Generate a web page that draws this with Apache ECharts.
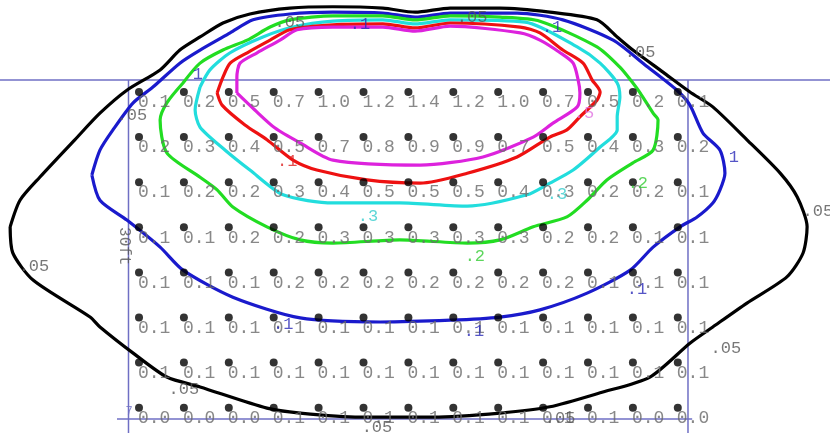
<!DOCTYPE html>
<html>
<head>
<meta charset="utf-8">
<script src="https://cdn.jsdelivr.net/npm/echarts@6/dist/echarts.min.js"></script>
<style>html,body{margin:0;padding:0;background:#fff}#c{width:830px;height:433px}</style>
</head>
<body>
<div id="c"></div>
<script>
// Illuminance grid values (rows top->bottom, 13 columns), grid units = point spacing
const illum = [
  [0.1,0.2,0.5,0.7,1.0,1.2,1.4,1.2,1.0,0.7,0.5,0.2,0.1],
  [0.2,0.3,0.4,0.5,0.7,0.8,0.9,0.9,0.7,0.5,0.4,0.3,0.2],
  [0.1,0.2,0.2,0.3,0.4,0.5,0.5,0.5,0.4,0.3,0.2,0.2,0.1],
  [0.1,0.1,0.2,0.2,0.3,0.3,0.3,0.3,0.3,0.2,0.2,0.1,0.1],
  [0.1,0.1,0.1,0.2,0.2,0.2,0.2,0.2,0.2,0.2,0.1,0.1,0.1],
  [0.1,0.1,0.1,0.1,0.1,0.1,0.1,0.1,0.1,0.1,0.1,0.1,0.1],
  [0.1,0.1,0.1,0.1,0.1,0.1,0.1,0.1,0.1,0.1,0.1,0.1,0.1],
  [0.0,0.0,0.0,0.1,0.1,0.1,0.1,0.1,0.1,0.1,0.1,0.0,0.0]
];

// Iso-lines (fc), in grid units
const iso005 = [[-2.87,2.99],[-2.65,2.40],[-2.21,1.89],[-1.43,1.06],[-0.87,0.47],[-0.27,-0.04],[0.47,-0.49],[0.91,-0.93],[1.36,-1.22],[1.87,-1.53],[2.47,-1.73],[3.36,-1.86],[4.32,-1.89],[5.43,-1.86],[6.15,-1.77],[6.93,-1.86],[8.04,-1.86],[9.15,-1.77],[10.20,-1.60],[10.65,-1.22],[11.00,-0.93],[11.67,-0.44],[12.27,0],[12.78,0.33],[13.54,1.06],[14.28,1.80],[14.66,2.33],[14.88,2.99],[14.79,3.57],[14.43,4.10],[13.54,4.68],[12.78,5.21],[12.27,5.57],[11.38,6.32],[10.27,6.67],[9.15,6.98],[8.04,7.12],[6.55,7.21],[4.92,7.21],[3.59,7.12],[2.85,7.01],[1.36,6.54],[0.62,6.32],[-0.13,5.79],[-0.87,5.21],[-1.09,4.99],[-2.36,4.17],[-2.81,3.57],[-2.87,2.99]];
const iso01 = [[-1.05,1.84],[-0.87,1.29],[-0.58,0.84],[-0.13,0.24],[0.31,-0.11],[0.91,-0.64],[1.36,-0.93],[2.03,-1.31],[2.54,-1.60],[3.36,-1.73],[4.32,-1.77],[5.43,-1.75],[6.15,-1.66],[6.93,-1.75],[8.42,-1.75],[9.44,-1.60],[10.56,-1.15],[11.27,-0.60],[11.98,-0.04],[12.27,0.29],[12.56,0.91],[12.94,1.29],[13.05,1.80],[12.94,2.17],[12.78,2.46],[12.43,2.77],[12.05,2.99],[11.45,3.44],[10.94,3.95],[9.98,4.46],[8.93,4.83],[8.04,4.99],[6.93,5.06],[5.37,5.10],[3.59,5.01],[2.09,4.55],[0.98,3.95],[0.47,3.44],[-0.27,2.84],[-0.87,2.40],[-1.05,1.84]];
const iso02 = [[0.98,-0.20],[1.36,-0.64],[1.87,-0.93],[2.41,-1.15],[2.92,-1.44],[3.36,-1.60],[4.32,-1.69],[5.43,-1.69],[6.15,-1.60],[6.93,-1.69],[8.04,-1.66],[8.93,-1.57],[10.20,-1.00],[10.71,-0.55],[11.00,-0.20],[11.16,0.02],[11.45,0.47],[11.56,0.62],[11.45,1.29],[11.00,1.57],[10.42,1.95],[9.98,2.40],[9.53,2.77],[8.78,2.99],[8.04,3.28],[7.31,3.35],[5.81,3.28],[4.32,3.35],[3.59,3.28],[2.85,2.99],[2.09,2.55],[1.74,2.17],[1.36,1.89],[0.62,1.35],[0.47,0.62],[0.62,0.24],[0.98,-0.20]];
const iso03 = [[1.36,-0.11],[1.58,-0.49],[2.03,-0.87],[2.76,-1.22],[3.43,-1.44],[4.32,-1.57],[5.43,-1.60],[6.15,-1.51],[6.93,-1.60],[8.60,-1.55],[9.76,-1.00],[10.27,-0.64],[10.65,-0.20],[10.71,0.11],[10.65,0.55],[10.65,0.84],[10.27,1.22],[9.67,1.73],[9.15,2.02],[8.64,2.28],[7.31,2.53],[5.81,2.46],[4.32,2.46],[3.21,2.28],[2.47,1.73],[1.92,1.29],[1.36,0.78],[1.25,0.40],[1.36,-0.11]];
const iso05 = [[1.74,0.02],[1.87,-0.33],[2.03,-0.64],[2.41,-0.87],[2.92,-1.15],[3.36,-1.38],[4.32,-1.49],[5.43,-1.51],[6.15,-1.42],[6.93,-1.53],[8.49,-1.44],[8.93,-1.31],[9.44,-0.93],[9.89,-0.64],[10.09,-0.27],[10.27,0],[10.20,0.18],[9.82,0.55],[9.53,0.84],[9.15,1.00],[8.42,1.44],[7.31,1.80],[6.26,2.02],[5.08,1.95],[3.96,1.73],[3.43,1.51],[2.85,1.06],[2.36,0.73],[1.85,0.29],[1.74,0.02]];
const iso10 = [[2.18,0.02],[2.18,-0.33],[2.25,-0.64],[2.63,-0.87],[3.14,-1.15],[3.52,-1.38],[4.32,-1.44],[5.43,-1.44],[6.15,-1.35],[6.93,-1.46],[8.49,-1.31],[8.93,-1.15],[9.38,-0.87],[9.67,-0.64],[9.78,-0.27],[9.82,0.02],[9.76,0.33],[9.22,0.69],[8.78,1.00],[7.66,1.44],[6.26,1.62],[4.32,1.51],[3.59,1.13],[3.03,0.80],[2.58,0.40],[2.18,0.02]];

// Iso-line labels: [x, y, text, level]
const isoLabels = [
  [3.36,-1.55,'.05','k'],[4.92,-1.49,'.1','b'],[7.42,-1.66,'.05','k'],[9.20,-1.42,'.1','b'],
  [11.16,-0.87,'.05','k'],[-0.16,0.51,'.05','k'],[-2.34,3.86,'.05','k'],[15.12,2.66,'.05','k'],
  [13.07,5.68,'.05','k'],[1.00,6.59,'.05','k'],[5.30,7.45,'.05','k'],[9.38,7.23,'.05','k'],
  [13.25,1.46,'1','b'],[11.09,4.39,'.1','b'],[7.46,5.32,'.1','b'],[3.21,5.15,'.1','b'],
  [1.31,-0.38,'1','b'],[7.48,3.64,'.2','g'],[11.11,2.02,'.2','g'],[5.10,2.77,'.3','c'],
  [9.31,2.28,'.3','c'],[9.91,0.47,'.5','m'],[3.30,1.55,'.1','r']
];
const frameTop = [[-3.10,-0.266],[15.39,-0.266]];
const frameLeft = [[-0.234,-0.266],[-0.234,7.561]];
const frameRight = [[12.227,-0.266],[12.227,7.561]];
const frameBottom = [[-0.49,7.25],[12.32,7.25]];

const levelColor = {k:'#555555', b:'#2a2ab8', g:'#33cc33', c:'#33cccc', m:'#e070e0', r:'#dd2222'};
const mono = 'Liberation Mono, DejaVu Sans Mono, monospace';

const dots = [];
illum.forEach((row, j) => row.forEach((v, i) => dots.push([i, j, v])));

function iso(data, color) {
  return {type:'line', data, symbol:'none', smooth:0.25, z:3,
    lineStyle:{color, width:3.2}, silent:true, animation:false};
}
function frame(data) {
  return {type:'line', data, symbol:'none', z:1,
    lineStyle:{color:'#6f6fc4', width:1.5}, silent:true, animation:false};
}

const chart = echarts.init(document.getElementById('c'));
chart.setOption({
  animation:false,
  backgroundColor:'#ffffff',
  grid:{left:0,right:0,top:0,bottom:0},
  xAxis:{type:'value', min:-3.0958, max:15.3898, show:false},
  yAxis:{type:'value', min:-2.0399, max:7.5610, inverse:true, show:false},
  series:[
    frame(frameTop), frame(frameLeft), frame(frameRight), frame(frameBottom),
    {type:'scatter', data:dots, symbol:'circle', symbolSize:8, z:4,
      itemStyle:{color:'#000'}, silent:true, animation:false,
      label:{show:true, position:[3,5.5], align:'left', verticalAlign:'top',
        fontFamily:mono, fontSize:18, color:'#6a6a6a',
        formatter:p => p.value[2].toFixed(1)}},
    iso(iso005,'#000000'), iso(iso01,'#1a1acc'), iso(iso02,'#22dd22'),
    iso(iso03,'#22dddd'), iso(iso05,'#ee1111'), iso(iso10,'#dd22dd'),
    {type:'scatter', symbolSize:1, z:5, silent:true, animation:false,
      itemStyle:{color:'rgba(0,0,0,0)'},
      data: isoLabels.map(l => ({value:[l[0], l[1]],
        label:{show:true, position:'inside', formatter:l[2], color:levelColor[l[3]],
          fontFamily:mono, fontSize:17}}))},
    {type:'scatter', symbolSize:1, z:5, silent:true, animation:false,
      itemStyle:{color:'rgba(0,0,0,0)'},
      data:[{value:[-0.33,3.42], label:{show:true, position:'inside', formatter:'30ft',
        rotate:-90, color:'#555555', fontFamily:mono, fontSize:16}},
        {value:[-0.22,7.10], label:{show:true, position:'inside', formatter:'7',
        color:'#6f6fc4', fontFamily:mono, fontSize:12}}]}
  ]
});
</script>
</body>
</html>
